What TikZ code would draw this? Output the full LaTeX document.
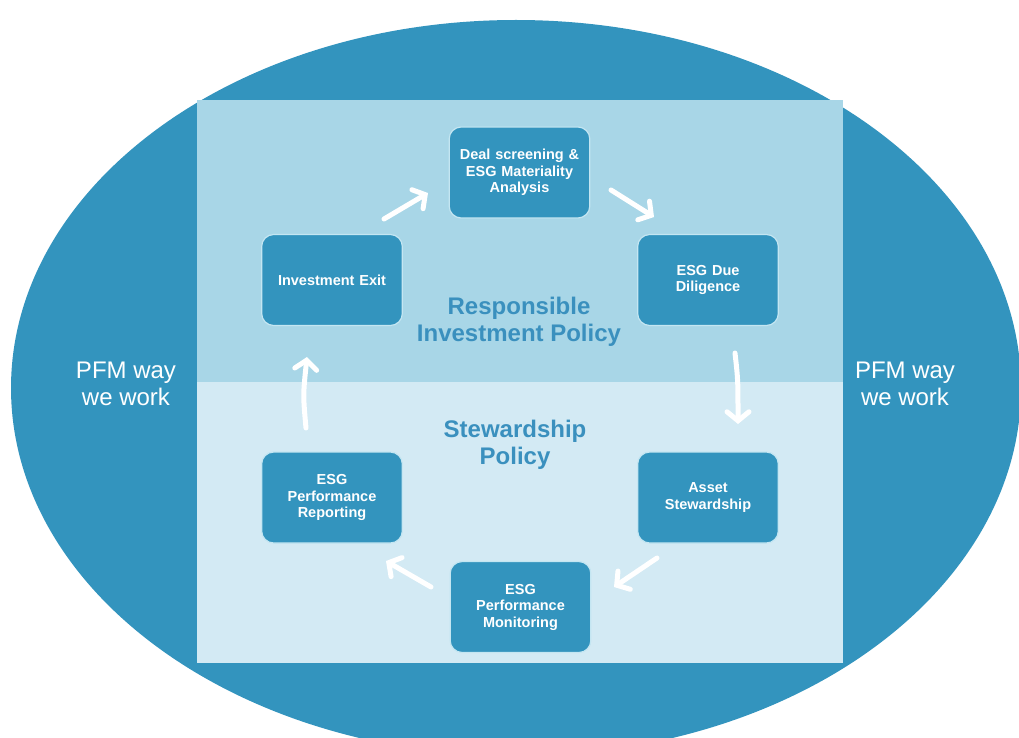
\documentclass[tikz,border=0pt]{standalone}
\usepackage{fontspec}
\setmainfont{Liberation Sans}
\usetikzlibrary{arrows.meta}
\definecolor{oceanblue}{HTML}{3394BE}
\definecolor{upperpane}{HTML}{A8D6E7}
\definecolor{lowerpane}{HTML}{D3EAF4}
\definecolor{boxedge}{HTML}{C4E6F2}
\definecolor{policyblue}{HTML}{3A90BE}
\tikzset{
  x=1pt, y=-1pt,
  stagebox/.style={draw=boxedge, line width=1.2pt, fill=oceanblue, rounded corners=12pt,
    minimum width=140pt, minimum height=91pt, text width=134pt, align=center,
    font=\bfseries\fontsize{14.5}{16.5}\selectfont, text=white},
  flow/.style={draw=white, line width=5pt, line cap=round,
    -{Straight Barb[length=9pt,width=22pt,line cap=round]}},
  policy/.style={text=policyblue, font=\bfseries\fontsize{24}{27}\selectfont, align=center},
  sidenote/.style={text=white, font=\fontsize{24}{27}\selectfont, align=center}
}
\begin{document}
\begin{tikzpicture}
\useasboundingbox (0,0) rectangle (1019,738);
\begin{scope}
  \clip (0,0) rectangle (1019,738);
  \fill[oceanblue] (516,388) ellipse [x radius=505pt, y radius=368pt];
\end{scope}
% two policy panes
\fill[upperpane] (197,100) rectangle (843,382);
\fill[lowerpane] (197,382) rectangle (843,663);

% the six stages of the cycle
\node[stagebox] (deal) at (519.5,172.5) {Deal screening \&\\ESG Materiality\\Analysis};
\node[stagebox] (due) at (708,280) {ESG Due\\Diligence};
\node[stagebox] (asset) at (708,497.5) {Asset\\Stewardship};
\node[stagebox] (monitor) at (520.5,607) {ESG\\Performance\\Monitoring};
\node[stagebox] (report) at (332,497.5) {ESG\\Performance\\Reporting};
\node[stagebox] (exit) at (332,280) {Investment Exit};

% policy titles
\node[policy] (rip) at (519,322) {Responsible\\Investment Policy};
\node[policy] (stew) at (515,445) {Stewardship\\Policy};

% side labels
\node[sidenote] (leftnote) at (126,384) {PFM way\\we work};
\node[sidenote] (rightnote) at (905,384) {PFM way\\we work};

% cycle arrows
\coordinate (a1s) at (384,219); \coordinate (a1e) at (428,193);
\coordinate (a2s) at (611,190); \coordinate (a2e) at (654,217);
\coordinate (a3s) at (735,353); \coordinate (a3e) at (738,424);
\coordinate (a4s) at (657,558); \coordinate (a4e) at (614,587);
\coordinate (a5s) at (431,587); \coordinate (a5e) at (386,561);
\coordinate (a6s) at (306,428); \coordinate (a6e) at (307,357);
\draw[flow] (a1s) -- (a1e);
\draw[flow] (a2s) -- (a2e);
\draw[flow] (a3s) .. controls (738,380) .. (a3e);
\draw[flow] (a4s) -- (a4e);
\draw[flow] (a5s) -- (a5e);
\draw[flow] (a6s) .. controls (303,395) .. (a6e);
\end{tikzpicture}
\end{document}
